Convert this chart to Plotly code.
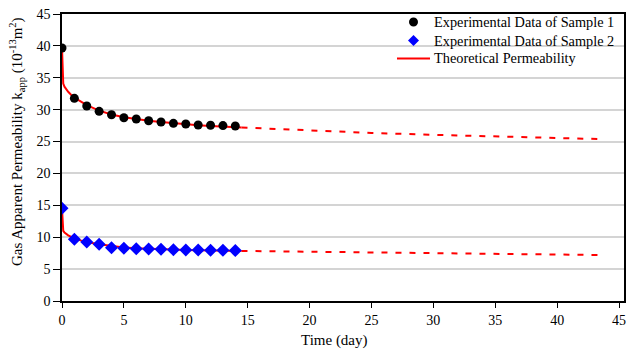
import plotly.graph_objects as go

days = list(range(0, 15))
sample1 = [39.67, 31.78, 30.57, 29.74, 29.2, 28.74, 28.53, 28.27, 28.06, 27.86, 27.75, 27.6, 27.55, 27.5, 27.44]
sample2 = [14.53, 9.67, 9.25, 8.89, 8.36, 8.26, 8.2, 8.15, 8.1, 8.05, 8.0, 8.0, 7.95, 7.95, 7.9]

theo_t = [0, 0.03, 0.06, 0.1, 0.2, 0.3, 0.5, 0.75, 1, 1.5, 2, 3, 4, 5, 6, 7, 8, 9, 10, 11, 12, 13, 14.5]
theo1 = [39.7, 37.0, 35.0, 34.1, 33.6, 33.3, 32.8, 32.3, 31.9, 31.3, 30.7, 29.85, 29.25, 28.8, 28.5, 28.25, 28.05, 27.85, 27.7, 27.55, 27.45, 27.35, 27.2]
theo2 = [14.5, 12.8, 11.6, 11.0, 10.75, 10.55, 10.3, 10.05, 9.8, 9.5, 9.25, 8.9, 8.6, 8.4, 8.28, 8.18, 8.1, 8.03, 7.98, 7.95, 7.92, 7.89, 7.85]

pred_t = [14.5, 20, 25, 30, 35, 40, 43.3]
pred1 = [27.2, 26.7, 26.35, 26.05, 25.8, 25.55, 25.4]
pred2 = [7.85, 7.72, 7.58, 7.47, 7.37, 7.28, 7.21]

x_ticks = [0, 5, 10, 15, 20, 25, 30, 35, 40, 45]
y_ticks = [0, 5, 10, 15, 20, 25, 30, 35, 40, 45]

x_title = "Time (day)"
y_title = "Gas Apparent Permeability k<sub>app</sub> (10<sup>-13</sup>m<sup>2</sup>)"
legend_names = ["Experimental Data of Sample 1", "Experimental Data of Sample 2", "Theoretical Permeability"]

red = "#ff0000"
serif = "Liberation Serif, Times New Roman, serif"

W, H = 626, 349
ML, MR, MT, MB = 62, 2, 14, 48
PW, PH = W - ML - MR, H - MT - MB


def px(x):
    return (x - ML) / PW


def py(y):
    return (H - MB - y) / PH


fig = go.Figure()
fig.add_trace(go.Scatter(x=theo_t, y=theo1, mode="lines", line=dict(color=red, width=2), showlegend=False))
fig.add_trace(go.Scatter(x=theo_t, y=theo2, mode="lines", line=dict(color=red, width=2), showlegend=False))
fig.add_trace(go.Scatter(x=pred_t, y=pred1, mode="lines", line=dict(color=red, width=2, dash="6px,8px"), showlegend=False))
fig.add_trace(go.Scatter(x=pred_t, y=pred2, mode="lines", line=dict(color=red, width=2, dash="6px,8px"), showlegend=False))
fig.add_trace(go.Scatter(x=days, y=sample1, mode="markers",
                         marker=dict(color="black", size=9, symbol="circle"),
                         name=legend_names[0], showlegend=False))
fig.add_trace(go.Scatter(x=days, y=sample2, mode="markers",
                         marker=dict(color="#0000ff", size=10, symbol="diamond"),
                         name=legend_names[1], showlegend=False))

# custom legend (symbols as paper shapes, labels as annotations)
rows = [22, 40.5, 58.5]
mx = 413.5
shapes = [
    dict(type="circle", xref="paper", yref="paper", x0=px(mx - 4.5), x1=px(mx + 4.5),
         y0=py(rows[0] + 4.5), y1=py(rows[0] - 4.5), fillcolor="black", line=dict(width=0)),
    dict(type="path", xref="paper", yref="paper",
         path=f"M {px(mx)} {py(rows[1] - 5.5)} L {px(mx + 5.5)} {py(rows[1])} L {px(mx)} {py(rows[1] + 5.5)} L {px(mx - 5.5)} {py(rows[1])} Z",
         fillcolor="#0000ff", line=dict(width=0)),
    dict(type="line", xref="paper", yref="paper", x0=px(397), x1=px(430), y0=py(rows[2]), y1=py(rows[2]),
         line=dict(color=red, width=2)),
]
annotations = [
    dict(text=name, xref="paper", yref="paper", x=px(431.5), y=py(r), xanchor="left", yanchor="middle",
         showarrow=False, font=dict(family=serif, size=14.3, color="black"))
    for name, r in zip(legend_names, rows)
]
annotations += [
    dict(text=x_title, xref="paper", yref="paper", x=px(334), y=py(340),
         xanchor="center", yanchor="middle", showarrow=False, font=dict(family=serif, size=15)),
    dict(text=y_title, xref="paper", yref="paper", x=px(17), y=py(142),
         xanchor="center", yanchor="middle", textangle=-90, showarrow=False, font=dict(family=serif, size=15)),
]

fig.update_layout(
    width=W, height=H,
    margin=dict(l=ML, r=MR, t=MT, b=MB, autoexpand=False),
    paper_bgcolor="white", plot_bgcolor="white",
    font=dict(family=serif, size=14, color="black"),
    showlegend=False,
    xaxis=dict(range=[0, 45.4], tickvals=x_ticks, showgrid=False, zeroline=False, automargin=False,
               showline=True, linecolor="black", linewidth=1.5, mirror=True, ticklabeloverflow="allow",
               ticks="outside", ticklen=5, tickcolor="black"),
    yaxis=dict(range=[0, 45], tickvals=y_ticks, showgrid=True, gridcolor="#d4d4d4", gridwidth=1.5,
               zeroline=False, showline=True, linecolor="black", linewidth=1.5, mirror=True, automargin=False,
               ticks="outside", ticklen=7, tickcolor="black"),
    shapes=shapes,
    annotations=annotations,
)
fig.write_html("out.html", config={"displayModeBar": False},
               post_script="document.body.style.margin='0';document.body.style.padding='0';")
